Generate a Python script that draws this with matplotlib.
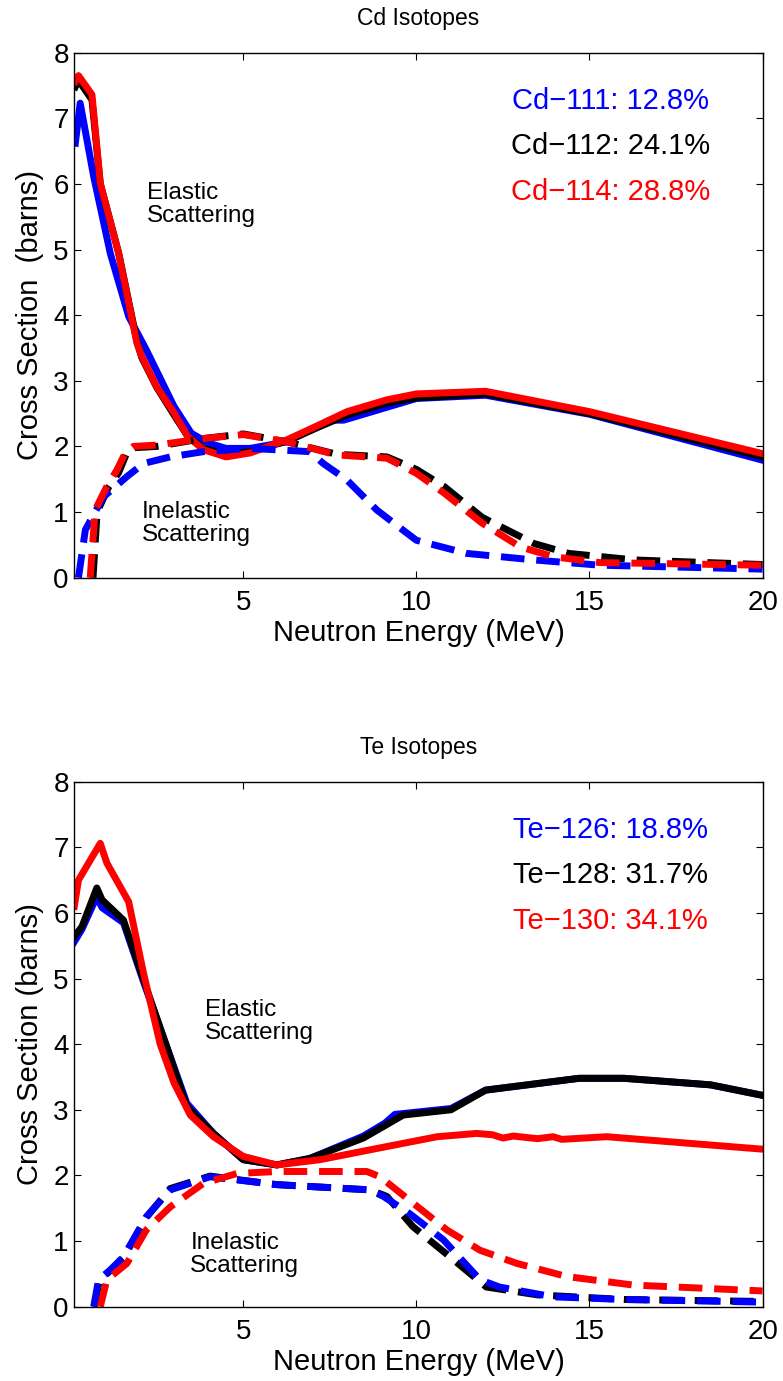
import matplotlib
matplotlib.use('Agg')
import matplotlib.pyplot as plt

plt.rcParams['font.family'] = ['Liberation Sans', 'DejaVu Sans']

# =============================================================================
# DATA - Cd isotopes (energy in MeV, cross section in barns)
# =============================================================================

cd111_el_e = [0.15, 0.29, 0.68, 1.16, 1.69, 2.2, 3.0, 3.5, 4.0, 4.5, 5.2, 6.26, 7.5, 7.9, 10.0, 12.0, 15.0, 20.0]
cd111_el = [6.62, 7.23, 6.11, 4.94, 3.98, 3.47, 2.61, 2.2, 2.05, 1.97, 1.97, 2.07, 2.4, 2.4, 2.73, 2.78, 2.49, 1.79]

cd11x_el_e = [0.15, 0.24, 0.63, 0.87, 1.4, 1.93, 2.07, 2.5, 3.0, 3.4, 3.85, 4.5, 5.2, 6.26, 7.2, 8.0, 9.15, 10.0, 12.0, 15.0, 20.0]
cd112_el = [7.48, 7.58, 7.28, 6.0, 4.95, 3.6, 3.35, 2.9, 2.48, 2.15, 1.97, 1.88, 1.92, 2.08, 2.3, 2.48, 2.66, 2.74, 2.8, 2.5, 1.84]
cd114_el = [7.56, 7.65, 7.36, 6.01, 4.94, 3.57, 3.37, 2.91, 2.51, 2.15, 1.95, 1.84, 1.9, 2.1, 2.33, 2.53, 2.71, 2.8, 2.84, 2.53, 1.89]

cd111_in_e = [0.24, 0.44, 0.96, 1.64, 2.12, 2.89, 3.85, 5.2, 6.93, 7.31, 7.99, 8.86, 9.6, 10.0, 11.45, 13.4, 15.3, 20.0]
cd111_in = [0.0, 0.73, 1.23, 1.54, 1.74, 1.84, 1.92, 1.97, 1.92, 1.74, 1.49, 1.03, 0.73, 0.57, 0.37, 0.27, 0.19, 0.13]

cd112_in_e = [0.66, 0.78, 1.1, 1.4, 1.62, 1.85, 2.5, 3.85, 5.0, 6.26, 7.7, 9.15, 10.0, 10.8, 11.9, 13.4, 14.4, 16.3, 20.0]
cd112_in = [0.0, 1.0, 1.37, 1.6, 1.88, 1.98, 2.0, 2.12, 2.19, 2.07, 1.88, 1.84, 1.65, 1.39, 0.92, 0.52, 0.37, 0.27, 0.2]

cd114_in_e = [0.58, 0.72, 1.06, 1.35, 1.59, 1.83, 2.5, 3.85, 5.0, 6.26, 7.7, 9.15, 10.0, 10.8, 11.9, 13.0, 13.95, 15.3, 20.0]
cd114_in = [0.0, 1.03, 1.39, 1.64, 1.9, 2.0, 2.02, 2.12, 2.18, 2.07, 1.87, 1.82, 1.59, 1.29, 0.83, 0.47, 0.32, 0.23, 0.19]

cd_labels = ['Cd\u2212111: 12.8%', 'Cd\u2212112: 24.1%', 'Cd\u2212114: 28.8%']

# =============================================================================
# DATA - Te isotopes
# =============================================================================

te126_el_e = [0.12, 0.34, 0.77, 0.92, 1.54, 2.12, 2.79, 3.37, 4.14, 5.0, 5.97, 6.93, 8.47, 9.1, 9.38, 11.0, 12.0, 14.7, 16.0, 18.5, 20.0]
te126_el = [5.56, 5.75, 6.25, 6.08, 5.85, 4.95, 3.96, 3.1, 2.64, 2.24, 2.16, 2.26, 2.6, 2.8, 2.93, 3.02, 3.3, 3.48, 3.48, 3.38, 3.22]

te128_el_e = [0.12, 0.34, 0.77, 0.92, 1.54, 2.12, 2.79, 3.37, 4.14, 5.0, 5.97, 6.93, 8.47, 9.62, 11.0, 12.0, 14.7, 16.0, 18.5, 20.0]
te128_el = [5.64, 5.79, 6.38, 6.2, 5.89, 4.98, 3.96, 3.05, 2.64, 2.24, 2.16, 2.26, 2.57, 2.92, 3.0, 3.3, 3.48, 3.48, 3.38, 3.22]

te130_el_e = [0.12, 0.24, 0.87, 1.06, 1.69, 2.12, 2.6, 3.0, 3.47, 4.14, 5.0, 5.97, 7.22, 8.66, 10.6, 11.74, 12.2, 12.5, 12.8, 13.5, 13.95, 14.2, 15.5, 20.0]
te130_el = [6.1, 6.5, 7.06, 6.76, 6.17, 5.08, 4.0, 3.41, 2.92, 2.59, 2.29, 2.16, 2.24, 2.39, 2.59, 2.64, 2.62, 2.57, 2.6, 2.56, 2.59, 2.55, 2.59, 2.4]

te126_in_e = [0.68, 0.82, 1.16, 1.54, 2.2, 2.89, 4.04, 5.97, 8.66, 9.05, 9.8, 10.78, 11.84, 12.4, 13.95, 16.0, 20.0]
te126_in = [0.0, 0.41, 0.56, 0.76, 1.37, 1.78, 1.98, 1.86, 1.78, 1.68, 1.42, 1.02, 0.41, 0.3, 0.15, 0.11, 0.07]

te128_in_e = [0.7, 0.84, 1.16, 1.54, 2.2, 2.89, 4.04, 5.97, 8.66, 9.15, 9.9, 10.97, 12.02, 13.5, 16.0, 20.0]
te128_in = [0.0, 0.4, 0.55, 0.74, 1.36, 1.8, 1.99, 1.86, 1.78, 1.68, 1.22, 0.76, 0.3, 0.18, 0.11, 0.08]

te130_in_e = [0.87, 1.06, 1.64, 2.2, 2.89, 3.85, 4.82, 5.97, 8.57, 8.95, 9.9, 10.88, 11.84, 12.9, 14.34, 16.26, 20.0]
te130_in = [0.0, 0.41, 0.66, 1.17, 1.52, 1.88, 2.03, 2.06, 2.06, 1.98, 1.58, 1.17, 0.86, 0.66, 0.46, 0.33, 0.24]

te_labels = ['Te\u2212126: 18.8%', 'Te\u2212128: 31.7%', 'Te\u2212130: 34.1%']

colors = ['blue', 'black', 'red']
LW = 5
DASH = (3.4, 1.7)


def style_axes(ax, title, ylabel):
    ax.set_xlim(0.12, 20)
    ax.set_ylim(0, 8)
    ax.set_xticks([5, 10, 15, 20])
    ax.set_yticks(range(0, 9))
    ax.tick_params(direction='in', top=True, right=True, length=5, width=0.8,
                   labelsize=20)
    ax.tick_params(axis='x', pad=9)
    ax.tick_params(axis='y', pad=4)
    for sp in ax.spines.values():
        sp.set_linewidth(1.0)
    ax.set_title(title, fontsize=16.5, pad=20)
    ax.set_xlabel('Neutron Energy (MeV)', fontsize=21, labelpad=2)
    ax.set_ylabel(ylabel, fontsize=21, labelpad=7)


fig = plt.figure(figsize=(7.83, 13.81), dpi=100)
ax1 = fig.add_axes([0.0949, 0.5817, 0.879, 0.3802])
ax2 = fig.add_axes([0.0949, 0.0538, 0.879, 0.3802])

# --- Cd ---
for e, v, c in [(cd111_el_e, cd111_el, colors[0]), (cd11x_el_e, cd112_el, colors[1]),
                (cd11x_el_e, cd114_el, colors[2])]:
    ax1.plot(e, v, color=c, lw=LW, solid_joinstyle='round')
for e, v, c in [(cd112_in_e, cd112_in, colors[1]), (cd111_in_e, cd111_in, colors[0]),
                (cd114_in_e, cd114_in, colors[2])]:
    ax1.plot(e, v, color=c, lw=LW, ls=(0, DASH), dash_capstyle='butt')

ax1.text(2.22, 5.68, 'Elastic\nScattering', fontsize=17.5, va='center', ha='left', linespacing=1.05)
ax1.text(2.07, 0.83, 'Inelastic\nScattering', fontsize=17.5, va='center', ha='left', linespacing=1.05)
for i, (lab, c) in enumerate(zip(cd_labels, colors)):
    ax1.text(15.6, 7.26 - 0.69 * i, lab, color=c, fontsize=21, ha='center', va='center')
style_axes(ax1, 'Cd Isotopes', 'Cross Section  (barns)')

# --- Te ---
for e, v, c in [(te126_el_e, te126_el, colors[0]), (te128_el_e, te128_el, colors[1]),
                (te130_el_e, te130_el, colors[2])]:
    ax2.plot(e, v, color=c, lw=LW, solid_joinstyle='round')
for e, v, c in [(te128_in_e, te128_in, colors[1]), (te126_in_e, te126_in, colors[0]),
                (te130_in_e, te130_in, colors[2])]:
    ax2.plot(e, v, color=c, lw=LW, ls=(0, DASH), dash_capstyle='butt')

ax2.text(3.9, 4.34, 'Elastic\nScattering', fontsize=17.5, va='center', ha='left', linespacing=1.05)
ax2.text(3.47, 0.79, 'Inelastic\nScattering', fontsize=17.5, va='center', ha='left', linespacing=1.05)
for i, (lab, c) in enumerate(zip(te_labels, colors)):
    ax2.text(15.6, 7.26 - 0.69 * i, lab, color=c, fontsize=21, ha='center', va='center')
style_axes(ax2, 'Te Isotopes', 'Cross Section (barns)')

fig.savefig('out.png', dpi=100)
